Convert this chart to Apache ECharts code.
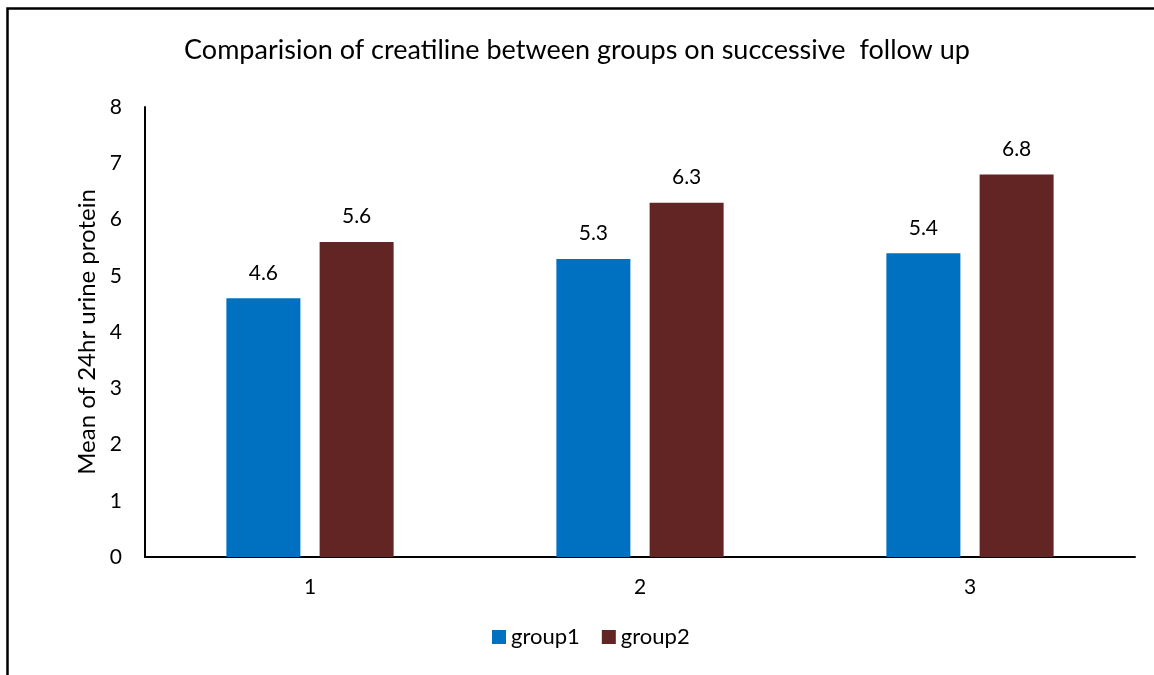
<!DOCTYPE html>
<html>
<head>
<meta charset="utf-8">
<title>Comparision of creatiline</title>
<script src="https://cdn.jsdelivr.net/npm/echarts@6/dist/echarts.min.js"></script>
<style>
  html, body { margin: 0; padding: 0; background: #fff; }
  #chart { width: 1154px; height: 675px; }
</style>
</head>
<body>
<div id="chart"></div>
<script>
// follow up visits
var visits = ['1', '2', '3'];
// means per group
var group1 = [4.6, 5.3, 5.4];
var group2 = [5.6, 6.3, 6.8];
var yTicks = [0, 1, 2, 3, 4, 5, 6, 7, 8];

var font = 'Lato, "Open Sans", sans-serif';
var chart = echarts.init(document.getElementById('chart'));

var barLabel = {
  show: true,
  position: 'top',
  distance: 15,
  color: '#000',
  fontFamily: font,
  fontSize: 21
};

chart.setOption({
  animation: false,
  textStyle: { fontFamily: font },
  // outer frame, only top and left edges show in the picture
  graphic: [{
    type: 'rect',
    left: 5,
    top: 6,
    shape: { width: 1300, height: 800 },
    style: { fill: 'none', stroke: '#000', lineWidth: 2.5 }
  }],
  title: {
    text: 'Comparision of creatiline between groups on successive  follow up',
    left: 'center',
    top: 32,
    textStyle: { fontFamily: font, fontSize: 27, fontWeight: 'normal', color: '#000' }
  },
  legend: {
    bottom: 22,
    left: 487,
    itemWidth: 14,
    itemHeight: 14,
    itemGap: 22,
    icon: 'rect',
    textStyle: { fontFamily: font, fontSize: 22, color: '#000' },
    data: ['group1', 'group2']
  },
  grid: {
    left: 145,
    right: 19,
    top: 107,
    bottom: 118
  },
  xAxis: {
    type: 'category',
    data: visits,
    axisLine: { lineStyle: { color: '#000', width: 2 } },
    axisTick: { show: false },
    axisLabel: { color: '#000', fontSize: 21, fontFamily: font, margin: 20 }
  },
  yAxis: {
    type: 'value',
    min: yTicks[0],
    max: yTicks[yTicks.length - 1],
    interval: 1,
    name: 'Mean of 24hr urine protein',
    nameLocation: 'middle',
    nameGap: 45,
    nameTextStyle: { color: '#000', fontSize: 24, fontFamily: font },
    axisLine: { show: true, lineStyle: { color: '#000', width: 2 } },
    axisTick: { show: false },
    splitLine: { show: false },
    axisLabel: { color: '#000', fontSize: 21, fontFamily: font, margin: 23 }
  },
  series: [
    {
      name: 'group1',
      type: 'bar',
      data: group1,
      barWidth: 74,
      barGap: '26%',
      itemStyle: { color: '#0070C0' },
      label: barLabel
    },
    {
      name: 'group2',
      type: 'bar',
      data: group2,
      barWidth: 74,
      itemStyle: { color: '#632523' },
      label: barLabel
    }
  ]
});
</script>
</body>
</html>
